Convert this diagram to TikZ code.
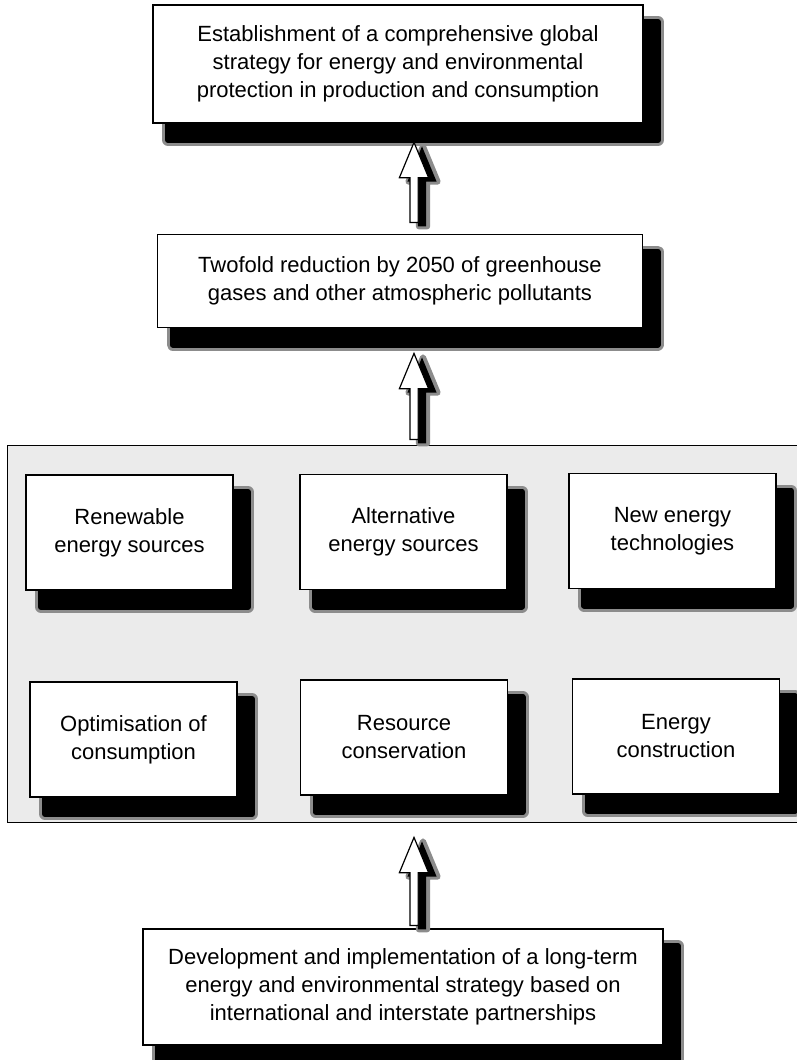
\documentclass[tikz,border=0pt]{standalone}
\usepackage{fontspec}
\setmainfont[FakeStretch=1.0]{Liberation Sans}
\usetikzlibrary{shapes.arrows, shadows, positioning}
\tikzset{%
  box/.style={draw, line width=1.2pt, fill=white, align=center, inner sep=0mm,
    font=\fontsize{22}{28}\selectfont,
    general shadow={draw=black!45, fill=black!45, line width=12pt, line join=round,
      shadow xshift=15pt, shadow yshift=-17pt},
    general shadow={draw=black, fill=black, line width=6pt, line join=round,
      shadow xshift=15pt, shadow yshift=-17pt}},
  small box/.style={box, minimum width=207pt, minimum height=115pt},
  panel/.style={draw, line width=1pt, fill=black!8, inner sep=0mm},
  up arrow/.style={single arrow, draw, line width=1.2pt, fill=white, rotate=90,
    anchor=tail, minimum width=28pt, inner sep=3.5pt,
    single arrow head extend=10.5pt, single arrow tip angle=45,
    general shadow={draw=black!45, fill=black!45, line width=6pt, line join=round,
      shadow xshift=9pt, shadow yshift=-4pt},
    general shadow={fill=black, shadow xshift=8pt, shadow yshift=-4pt}}
}
\begin{document}
\begin{tikzpicture}[x=1pt, y=-1pt]
  \useasboundingbox[fill=white] (0,0) rectangle (797,1060);
  % aims
  \node[box, minimum width=490pt, minimum height=118pt] (aim) at (398,64)
    {Establishment of a comprehensive global\\strategy for energy and environmental\\protection in production and consumption};
  \node[box, minimum width=485pt, minimum height=93pt] (cut) at (400,281)
    {Twofold reduction by 2050 of greenhouse\\gases and other atmospheric pollutants};
  % field of directions
  \node[panel, minimum width=812pt, minimum height=377pt] (field) at (413,633.5) {};
  \node[small box] (renew) at (129.5,532.5) {Renewable\\energy sources};
  \node[small box] (alter) at (403.5,532) {Alternative\\energy sources};
  \node[small box] (tech) at (672.5,531) {New energy\\technologies};
  \node[small box] (optim) at (133.5,739.5) {Optimisation of\\consumption};
  \node[small box] (conserv) at (404,737.5) {Resource\\conservation};
  \node[small box] (constr) at (676,736.5) {Energy\\construction};
  % basis
  \node[box, minimum width=520pt, minimum height=116pt] (basis) at (403,987)
    {Development and implementation of a long-term\\energy and environmental strategy based on\\international and interstate partnerships};
  % arrows
  \node[up arrow, minimum height=80pt] (up1) at (414,223) {};
  \node[up arrow, minimum height=86pt] (up2) at (414,440) {};
  \node[up arrow, minimum height=88pt] (up3) at (414,926) {};
\end{tikzpicture}
\end{document}
